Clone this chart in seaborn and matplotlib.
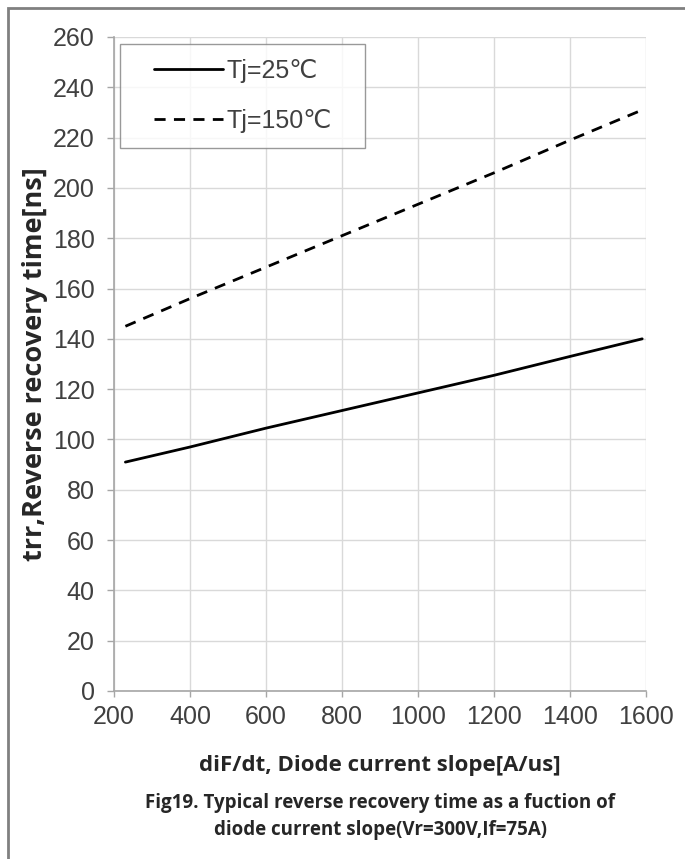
import matplotlib
matplotlib.use("Agg")
import matplotlib.pyplot as plt
import seaborn as sns
import pandas as pd
from matplotlib.patches import Rectangle
from matplotlib.lines import Line2D
from matplotlib.legend_handler import HandlerLine2D

# Data
dif_dt = [230, 400, 600, 800, 1000, 1200, 1400, 1590]
trr_25 = [91, 97, 104.5, 111.5, 118.5, 125.5, 133, 140]
trr_150 = [145, 156, 168.5, 181, 193.5, 206, 219, 231]
series_labels = ["Tj=25\u2103", "Tj=150\u2103"]
x_ticks = [200, 400, 600, 800, 1000, 1200, 1400, 1600]
y_ticks = list(range(0, 261, 20))

df = pd.DataFrame({
    "x": dif_dt + dif_dt,
    "y": trr_25 + trr_150,
    "series": [series_labels[0]] * len(dif_dt) + [series_labels[1]] * len(dif_dt),
})

sns.set_theme(style="white")
plt.rcParams['font.family'] = ['Liberation Sans', 'DejaVu Sans']

fig = plt.figure(figsize=(6.85, 8.59), dpi=100)
ax = fig.add_axes([114/685, 1-691/859, (646-114)/685, (691-37)/859])

sns.lineplot(data=df, x="x", y="y", hue="series", style="series",
             palette=["black", "black"], dashes=[(None, None), (4, 3)],
             linewidth=2, ax=ax, legend=False)

ax.set_xlim(200, 1600)
ax.set_ylim(0, 260)
ax.set_xticks(x_ticks)
ax.set_yticks(y_ticks)
ax.grid(True, color="#d9d9d9", linewidth=1)
ax.set_axisbelow(True)
for s in ["top", "right"]:
    ax.spines[s].set_visible(False)
for s in ["left", "bottom"]:
    ax.spines[s].set_color("#a6a6a6")
    ax.spines[s].set_linewidth(1.2)
ax.tick_params(axis="both", which="both", direction="out", width=1,
               color="#a6a6a6", labelsize=18, labelcolor="#404040",
               left=True, bottom=True)
ax.tick_params(axis="x", length=4, pad=6)
ax.tick_params(axis="y", length=5, pad=9)
ax.set_xlabel("")
ax.set_ylabel("")

handles = [Line2D([], [], color="black", lw=2),
           Line2D([], [], color="black", lw=2, dashes=(4, 3))]
hmap = {h: HandlerLine2D(xpad=0.75) for h in handles}
top = 1 - (44 - 37) / 654
leg = ax.legend(handles, series_labels, loc="upper left",
                bbox_to_anchor=((120-114)/532, top - 0.3, (365-120)/532, 0.3),
                mode="expand", handler_map=hmap,
                fontsize=18, frameon=True, fancybox=False, handlelength=3.5,
                handletextpad=0.15, labelspacing=1.05, borderpad=0.6,
                borderaxespad=0)
leg.get_frame().set_edgecolor("#808080")
leg.get_frame().set_linewidth(1)
for t in leg.get_texts():
    t.set_color("#404040")

label_font = ['Open Sans', 'DejaVu Sans']
fig.text(380/685, 1-765/859, "diF/dt, Diode current slope[A/us]",
         ha="center", va="center", fontsize=16, fontweight="bold",
         family=label_font, color="#262626")
fig.text(380/685, 1-803/859, "Fig19. Typical reverse recovery time as a fuction of",
         ha="center", va="center", fontsize=13.5, fontweight="bold",
         family=label_font, color="#262626")
fig.text(380/685, 1-830/859, "diode current slope(Vr=300V,If=75A)",
         ha="center", va="center", fontsize=13.5, fontweight="bold",
         family=label_font, color="#262626")
fig.text(35/685, 1-364/859, "trr,Reverse recovery time[ns]",
         ha="center", va="center", rotation=90, fontsize=19.5, fontweight="bold",
         family=label_font, color="#262626")

# Figure border (left and top visible)
fig.patches.append(Rectangle((8/685, -0.1), 1.2, 1-8/859+0.1,
                             transform=fig.transFigure, fill=False,
                             edgecolor="#808080", linewidth=2))

fig.savefig("out.png", dpi=100)
